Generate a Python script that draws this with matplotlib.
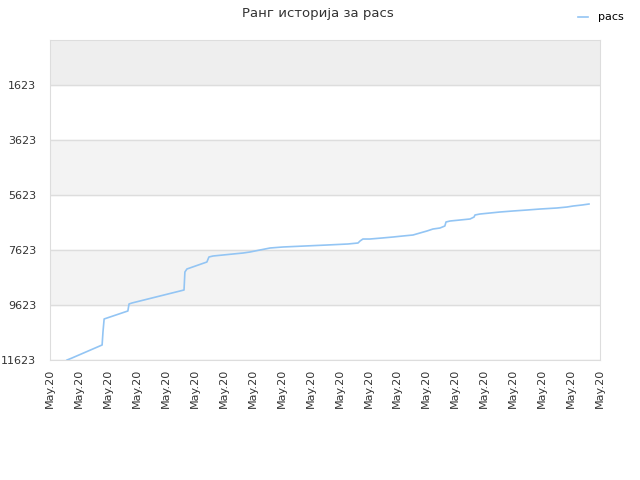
import numpy as np
import matplotlib
matplotlib.use("Agg")
import matplotlib.pyplot as plt

# rank history of pacs, x in tick units (0..19), y = rank
x_pts = [0.59, 0.76, 1.80, 1.83, 1.87, 2.69, 2.73, 2.83, 4.63, 4.66, 4.73,
         5.42, 5.49, 5.63, 5.98, 6.32, 6.67, 6.91, 7.25, 7.43, 7.60, 8.05,
         8.81, 9.57, 10.29, 10.64, 10.71, 10.81, 11.05, 11.47, 11.85, 12.19,
         12.54, 12.78, 13.02, 13.23, 13.47, 13.64, 13.68, 13.82, 14.16, 14.51,
         14.65, 14.68, 14.85, 15.20, 15.54, 15.99, 16.48, 16.93, 17.51, 17.86,
         18.07, 18.38, 18.62]
ranks = [11623, 11550, 11077, 10604, 10131, 9840, 9586, 9550, 9077, 8423, 8313,
         8059, 7877, 7841, 7804, 7768, 7732, 7695, 7623, 7586, 7550, 7513,
         7477, 7441, 7404, 7368, 7295, 7223, 7223, 7186, 7150, 7113,
         7077, 7004, 6932, 6859, 6823, 6750, 6604, 6568, 6532, 6495,
         6423, 6350, 6314, 6277, 6241, 6204, 6168, 6132, 6095, 6059,
         6023, 5986, 5950]
tick_labels = ["May.20"] * 20
y_ticks = [1623, 3623, 5623, 7623, 9623, 11623]

fig = plt.figure(figsize=(6.4, 4.8), dpi=100)
ax = fig.add_axes([50/640, 1-360/480, 550/640, 320/480])

ax.set_ylim(11623, -15)
ax.set_xlim(0, 19)

# alternating bands
ax.axhspan(-15, 1623, color="#eeeeee", zorder=0)
ax.axhspan(3623, 5623, color="#f3f3f3", zorder=0)
ax.axhspan(7623, 9623, color="#f3f3f3", zorder=0)
for yt in y_ticks:
    ax.axhline(yt, color="#dddddd", lw=1, zorder=1)

ax.plot(x_pts, ranks, color="#93c5f4", lw=1.2, label="pacs", zorder=3)

ax.set_yticks(y_ticks)
ax.set_yticklabels([str(v) for v in y_ticks])
ax.set_xticks(np.arange(20))
ax.set_xticklabels(tick_labels, rotation=90)
ax.tick_params(axis="both", length=0, labelsize=8, colors="#333333")
ax.tick_params(axis="y", pad=10)
ax.tick_params(axis="x", pad=6)

for sp in ax.spines.values():
    sp.set_color("#dddddd")

fig.suptitle("Ранг историја за pacs", x=0.497, y=0.985, fontsize=9.5, color="#333333")
fig.legend(loc="upper right", bbox_to_anchor=(0.99, 0.995), frameon=False,
           fontsize=8, handlelength=0.9, handletextpad=0.9)

fig.savefig("out.png", dpi=100)
